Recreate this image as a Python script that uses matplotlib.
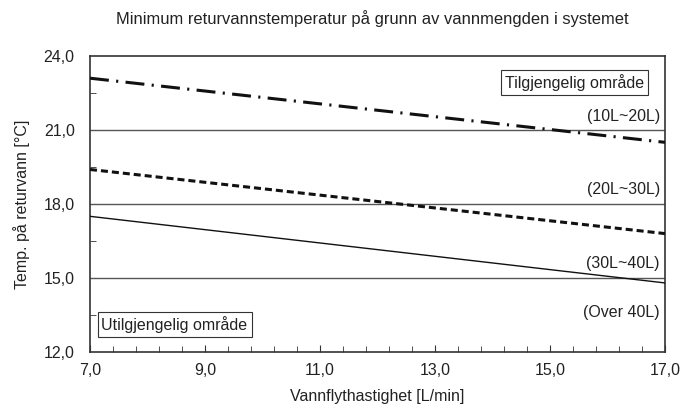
import matplotlib
matplotlib.use("Agg")
import matplotlib.pyplot as plt
import numpy as np
from matplotlib.ticker import FixedLocator, FuncFormatter, MultipleLocator

plt.rcParams['font.family'] = ['Liberation Sans', 'DejaVu Sans']

flow = [7.0, 17.0]
series_10_20 = [23.1, 20.5]
series_20_30 = [19.4, 16.8]
series_30_40 = [17.5, 14.8]
limits = [21.0, 18.0, 15.0]
region_labels = ["(10L~20L)", "(20L~30L)", "(30L~40L)", "(Over 40L)"]
region_label_y = [21.55, 18.6, 15.6, 13.6]
x_major = [7, 9, 11, 13, 15, 17]

fig = plt.figure(figsize=(6.81, 4.09), dpi=100)
ax = fig.add_axes([90/681, 1-352/409, 575/681, 296/409])

txt = '#222222'
fs = 11.5
for v in limits:
    ax.axhline(v, color='#555555', lw=1.0, zorder=1)

ax.plot(flow, series_10_20, color='#111111', lw=2.2, dashes=(6.2, 2.4, 0.7, 2.4), zorder=3)
ax.plot(flow, series_20_30, color='#111111', lw=2.2, dashes=(2.3, 1.3), zorder=3)
ax.plot(flow, series_30_40, color='#111111', lw=1.0, zorder=3)

ax.set_xlim(7, 17)
ax.set_ylim(12, 24)
ax.xaxis.set_major_locator(FixedLocator(x_major))
ax.xaxis.set_minor_locator(FixedLocator(np.arange(7, 17.01, 0.4)))
ax.yaxis.set_major_locator(MultipleLocator(3))
ax.yaxis.set_minor_locator(MultipleLocator(1.5))
fmt = FuncFormatter(lambda v, p: f"{v:.1f}".replace('.', ','))
ax.xaxis.set_major_formatter(fmt)
ax.yaxis.set_major_formatter(fmt)
ax.tick_params(which='both', direction='in', colors='#333333', labelcolor=txt, labelsize=fs)
ax.tick_params(which='major', length=5, pad=8)
ax.tick_params(which='minor', length=4)
ax.tick_params(axis='y', which='major', length=0, pad=11)
for s in ax.spines.values():
    s.set_color('#333333')
    s.set_linewidth(1.2)

for lab, y in zip(region_labels, region_label_y):
    ax.text(16.91, y, lab, ha='right', va='center', fontsize=fs, color=txt)

bbox = dict(boxstyle='square,pad=0.25', fc='white', ec='#333333', lw=0.8)
ax.text(16.63, 22.93, "Tilgjengelig område", ha='right', va='center', fontsize=fs, color=txt, bbox=bbox)
ax.text(7.2, 13.12, "Utilgjengelig område", ha='left', va='center', fontsize=fs, color=txt, bbox=bbox)

ax.set_xlabel("Vannflythastighet [L/min]", fontsize=fs, color=txt, labelpad=8)
ax.set_ylabel("Temp. på returvann [°C]", fontsize=fs, color=txt, labelpad=10)
ax.set_title("Minimum returvannstemperatur på grunn av vannmengden i systemet", fontsize=11.9, color=txt, pad=23, x=0.491)

fig.savefig("out.png", dpi=100)
